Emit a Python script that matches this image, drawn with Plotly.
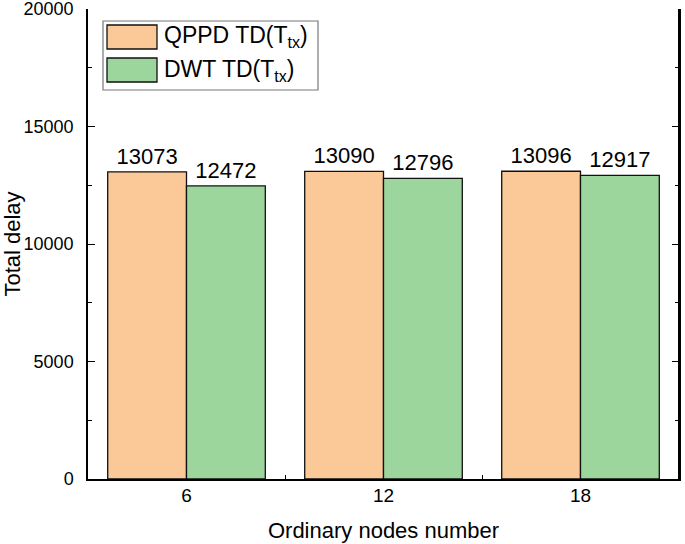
import plotly.graph_objects as go

categories = ["6", "12", "18"]
qppd_values = [13073, 13090, 13096]
dwt_values = [12472, 12796, 12917]
series_names = ["QPPD TD(T<sub>tx</sub>)", "DWT TD(T<sub>tx</sub>)"]
y_ticks = [0, 5000, 10000, 15000, 20000]
y_tick_labels = ["0", "5000", "10000", "15000", "20000"]

W, H = 685, 544
ML, MR, MT, MB = 88, 6, 9, 65
PW, PH = W - ML - MR, H - MT - MB

FONT = "Arial, Liberation Sans, sans-serif"
ORANGE = "#FBC898"
GREEN = "#9DD69C"

def px(x):
    return (x - ML) / PW

def py(y):
    return (H - MB - y) / PH

fig = go.Figure()
for name, vals, col in [(series_names[0], qppd_values, ORANGE), (series_names[1], dwt_values, GREEN)]:
    fig.add_trace(go.Bar(
        x=categories, y=vals, name=name,
        marker=dict(color=col, line=dict(color="#111111", width=1.3)),
        text=[str(v) for v in vals], textposition="outside",
        textfont=dict(family=FONT, size=22, color="black"),
        constraintext="none", cliponaxis=False, showlegend=False,
    ))

fig.update_layout(
    width=W, height=H,
    margin=dict(l=ML, r=MR, t=MT, b=MB, pad=0),
    paper_bgcolor="white", plot_bgcolor="white",
    barmode="group", bargap=0.2, bargroupgap=0,
    font=dict(family=FONT, color="black"),
    showlegend=False,
)
fig.update_xaxes(
    type="category", range=[-0.5, 2.5], automargin=False,
    showline=True, linecolor="black", linewidth=1.5, mirror=False,
    ticks="inside", tickson="boundaries", ticklen=4, tickwidth=1.2, tickcolor="black",
    tickfont=dict(family=FONT, size=19, color="black"), ticklabelstandoff=-2,
    ticklabeloverflow="allow",
    showgrid=False, zeroline=False,
    title=dict(text="Ordinary nodes number", font=dict(family=FONT, size=22, color="black"), standoff=18),
)
fig.update_yaxes(
    range=[0, 20000], tickvals=y_ticks, ticktext=y_tick_labels, automargin=False,
    showline=True, linecolor="black", linewidth=1.5, mirror="ticks",
    ticks="inside", ticklen=7, tickwidth=1.2, tickcolor="black",
    minor=dict(dtick=2500, ticks="inside", ticklen=4, tickwidth=1.2, tickcolor="black", showgrid=False),
    tickfont=dict(family=FONT, size=18, color="black"), ticklabelstandoff=9,
    ticklabeloverflow="allow",
    showgrid=False, zeroline=False,
    title=dict(text="Total delay", font=dict(family=FONT, size=22, color="black"), standoff=10),
)

# explicit right frame line
fig.add_shape(type="line", xref="paper", yref="paper", x0=1, x1=1, y0=0, y1=1,
              line=dict(color="black", width=2), layer="above")

# legend box drawn manually (large swatches as in reference)
fig.add_shape(type="rect", xref="paper", yref="paper",
              x0=px(103), x1=px(318), y0=py(90), y1=py(21),
              line=dict(color="#777777", width=1.2), fillcolor="white", layer="above")
for i, (name, col) in enumerate([(series_names[0], ORANGE), (series_names[1], GREEN)]):
    top = 25 + i * 33
    fig.add_shape(type="rect", xref="paper", yref="paper",
                  x0=px(107), x1=px(157), y0=py(top + 24), y1=py(top),
                  line=dict(color="#111111", width=1.3), fillcolor=col, layer="above")
    fig.add_annotation(xref="paper", yref="paper", x=px(162), y=py(top + 12),
                       text=name, showarrow=False, xanchor="left", yanchor="middle",
                       font=dict(family=FONT, size=23, color="black"))

fig.write_html("out.html", config={"displayModeBar": False},
               post_script="document.body.style.margin='0';document.body.style.overflow='hidden';")
